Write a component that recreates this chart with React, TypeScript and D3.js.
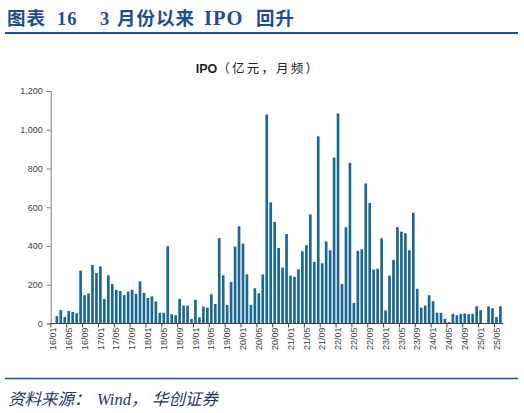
import React, { useRef, useEffect } from 'react';
import * as d3 from 'd3';

// monthly IPO raised (亿元), 2016/01 – 2025/06
const years = ['16', '17', '18', '19', '20', '21', '22', '23', '24', '25'];
const v2016 = [0, 38, 69, 34, 65, 60, 53, 273, 146, 155, 302, 261];
const v2017 = [295, 127, 249, 203, 174, 168, 146, 165, 174, 153, 218, 158];
const v2018 = [132, 140, 114, 55, 55, 399, 48, 43, 127, 93, 93, 23];
const v2019 = [122, 32, 88, 82, 151, 101, 441, 249, 96, 215, 397, 502];
const v2020 = [412, 254, 96, 182, 156, 253, 1079, 625, 524, 390, 289, 462];
const v2021 = [247, 241, 280, 373, 404, 563, 318, 966, 311, 423, 378, 856];
const v2022 = [1084, 204, 497, 829, 106, 375, 383, 723, 622, 278, 283, 440];
const v2023 = [67, 247, 328, 497, 474, 466, 378, 572, 179, 82, 93, 146];
const v2024 = [115, 55, 55, 24, 7, 50, 43, 50, 52, 48, 50, 89];
const v2025 = [69, 0, 89, 79, 33, 89];
const yTicks = [0, 200, 400, 600, 800, 1000, 1200];

const seriesByYear = [v2016, v2017, v2018, v2019, v2020, v2021, v2022, v2023, v2024, v2025];

const data = seriesByYear.flatMap((arr, yi) =>
    arr.map((value, mi) => ({
        month: `${years[yi]}/${String(mi + 1).padStart(2, '0')}`,
        value,
    })),
);

const W = 524;
const H = 413;
const BLUE = '#1F4E8C';

// header pieces, laid out one by one as in the report template
const headerParts: [string, number, number][] = [
    ['图表', 7, 18.5],
    ['16', 57, 18.5],
    ['3', 100, 18.5],
    ['月份以来', 117, 18.5],
    ['IPO', 204, 20.5],
    ['回升', 256, 18.5],
];

const App: React.FC = () => {
    const svgRef = useRef<SVGSVGElement | null>(null);

    useEffect(() => {
        if (!svgRef.current) return;
        const svg = d3.select(svgRef.current);
        svg.selectAll('*').remove();

        const x = d3
            .scaleBand<string>()
            .domain(data.map((d) => d.month))
            .range([50.9, 502.4])
            .paddingInner(0.32)
            .paddingOuter(0.16);

        const y = d3.scaleLinear().domain([0, 1200]).range([323.5, 91]);

        // header
        const header = svg
            .append('text')
            .attr('y', 25)
            .attr('font-family', '"Liberation Serif", "Noto Sans CJK SC", serif')
            .attr('font-weight', 'bold')
            .attr('fill', BLUE);
        headerParts.forEach(([t, px, fs]) => {
            header
                .append('tspan')
                .attr('x', px)
                .attr('font-size', fs)
                .attr('letter-spacing', 1)
                .text(t);
        });

        svg.append('line')
            .attr('x1', 5)
            .attr('x2', 518)
            .attr('y1', 33)
            .attr('y2', 33)
            .attr('stroke', BLUE)
            .attr('stroke-width', 1.8);

        // chart title
        const title = svg
            .append('text')
            .attr('x', 258)
            .attr('y', 73)
            .attr('text-anchor', 'middle')
            .attr('font-family', 'Arial, "Liberation Sans", "Noto Sans CJK SC", sans-serif')
            .attr('font-size', 12.5)
            .attr('font-weight', 'bold')
            .attr('fill', '#222');
        title.append('tspan').text('IPO');
        title
            .append('tspan')
            .attr('font-weight', 'normal')
            .attr('letter-spacing', 2.2)
            .text('（亿元，月频）');

        // bars
        svg.append('g')
            .selectAll('rect')
            .data(data.filter((d) => d.value > 0))
            .enter()
            .append('rect')
            .attr('x', (d) => x(d.month) ?? 0)
            .attr('y', (d) => y(d.value))
            .attr('width', x.bandwidth())
            .attr('height', (d) => y(0) - y(d.value))
            .attr('fill', '#1D6893');

        // y axis
        const yAxis = svg
            .append('g')
            .attr('transform', 'translate(50.7,0)')
            .call(
                d3
                    .axisLeft(y)
                    .tickValues(yTicks)
                    .tickSize(4)
                    .tickPadding(4)
                    .tickFormat(d3.format(',')),
            );
        yAxis.select('.domain').attr('stroke', '#7f7f7f');
        yAxis.selectAll('line').attr('stroke', '#7f7f7f');
        yAxis
            .selectAll('text')
            .attr('font-family', 'Arial, "Liberation Sans", sans-serif')
            .attr('font-size', 9)
            .attr('fill', '#404040');

        // x axis
        const step = x.step();
        const x0 = 50.9;
        const xg = svg.append('g');
        xg.append('line')
            .attr('x1', 50.7)
            .attr('x2', 503)
            .attr('y1', y(0))
            .attr('y2', y(0))
            .attr('stroke', '#404040')
            .attr('stroke-width', 1);

        const labelled = data.filter((_, i) => i % 4 === 0);
        xg.selectAll('line.tick')
            .data(labelled)
            .enter()
            .append('line')
            .attr('class', 'tick')
            .attr('x1', (_, i) => x0 + i * 4 * step)
            .attr('x2', (_, i) => x0 + i * 4 * step)
            .attr('y1', y(0))
            .attr('y2', y(0) + 4)
            .attr('stroke', '#404040');

        xg.selectAll('text')
            .data(labelled)
            .enter()
            .append('text')
            .attr(
                'transform',
                (d) =>
                    `translate(${(x(d.month) ?? 0) + x.bandwidth() / 2},${y(0) + 4}) rotate(-90)`,
            )
            .attr('text-anchor', 'end')
            .attr('dy', '0.35em')
            .attr('font-family', 'Arial, "Liberation Sans", sans-serif')
            .attr('font-size', 9)
            .attr('fill', '#404040')
            .text((d) => d.month);

        // footer
        svg.append('line')
            .attr('x1', 5)
            .attr('x2', 518)
            .attr('y1', 378.5)
            .attr('y2', 378.5)
            .attr('stroke', BLUE)
            .attr('stroke-width', 1.5);

        const footer = svg
            .append('text')
            .attr('y', 405)
            .attr('font-family', '"Liberation Serif", "Noto Sans CJK SC", serif')
            .attr('font-style', 'italic')
            .attr('font-size', 16.5)
            .attr('fill', '#1F3864');
        footer.append('tspan').attr('x', 8).text('资料来源：');
        footer.append('tspan').attr('x', 97).text('Wind，');
        footer.append('tspan').attr('x', 152).text('华创证券');
    }, []);

    return (
        <div style={{ position: 'absolute', left: 0, top: 0, width: W, height: H, background: '#fff' }}>
            <svg ref={svgRef} width={W} height={H} viewBox={`0 0 ${W} ${H}`} />
        </div>
    );
};

export default App;
